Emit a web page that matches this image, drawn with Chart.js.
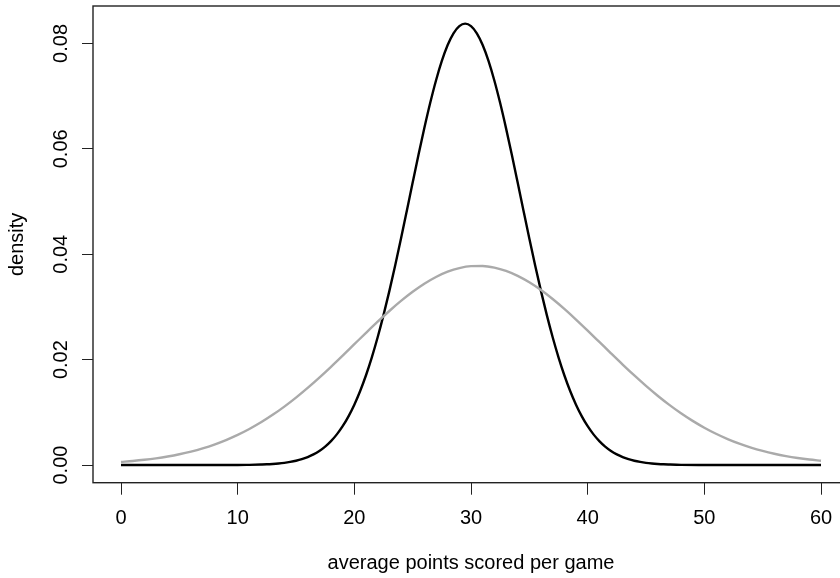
<!DOCTYPE html>
<html>
<head>
<meta charset="utf-8">
<script src="https://cdn.jsdelivr.net/npm/chart.js@4.4.1/dist/chart.umd.min.js"></script>
<style>
  html, body { margin: 0; padding: 0; overflow: hidden; background: #fff; width: 840px; height: 578px; }
  canvas { display: block; }
</style>
</head>
<body>
<canvas id="chart" width="856" height="578"></canvas>
<script>
// Axis ticks and titles
const xTickValues = [0, 10, 20, 30, 40, 50, 60];
const yTickValues = [0, 0.02, 0.04, 0.06, 0.08];
const xTitle = 'average points scored per game';
const yTitle = 'density';

// Narrow (black) density curve
const narrowX = [0, 2, 4, 6, 8, 10, 11,
  12, 12.5, 13, 13.5, 14, 14.5, 15, 15.5, 16, 16.5, 17, 17.5, 18, 18.5, 19, 19.5,
  20, 20.5, 21, 21.5, 22, 22.5, 23, 23.5, 24, 24.5, 25, 25.5, 26, 26.5, 27, 27.5,
  28, 28.5, 29, 29.5, 30, 30.5, 31, 31.5, 32, 32.5, 33, 33.5, 34, 34.5, 35, 35.5,
  36, 36.5, 37, 37.5, 38, 38.5, 39, 39.5, 40, 40.5, 41, 41.5, 42, 42.5, 43, 43.5,
  44, 44.5, 45, 45.5, 46, 46.5, 47,
  48, 50, 52, 54, 56, 58, 60];
const narrowDensity = [0, 0, 0, 0, 0, 0, 0.00004,
  0.00010, 0.00014, 0.00021, 0.00030, 0.00042, 0.00059, 0.00081, 0.00111, 0.00151, 0.00202, 0.00267, 0.00350, 0.00454, 0.00582, 0.00737, 0.00924,
  0.01146, 0.01405, 0.01704, 0.02044, 0.02424, 0.02844, 0.03300, 0.03788, 0.04300, 0.04827, 0.05360, 0.05886, 0.06393, 0.06868, 0.07297, 0.07668,
  0.07970, 0.08192, 0.08329, 0.08375, 0.08329, 0.08192, 0.07970, 0.07668, 0.07297, 0.06868, 0.06393, 0.05886, 0.05360, 0.04827, 0.04300, 0.03788,
  0.03300, 0.02844, 0.02424, 0.02044, 0.01704, 0.01405, 0.01146, 0.00924, 0.00737, 0.00582, 0.00454, 0.00350, 0.00267, 0.00202, 0.00151, 0.00111,
  0.00081, 0.00059, 0.00042, 0.00030, 0.00021, 0.00014, 0.00010,
  0.00004, 0.00001, 0, 0, 0, 0, 0];

// Wide (grey) density curve
const wideX = [0, 1, 2, 3, 4, 5, 6, 7, 8, 9, 10, 11, 12, 13, 14, 15, 16, 17, 18, 19, 20,
  21, 22, 23, 24, 25, 26, 27, 28, 29, 30, 31, 32, 33, 34, 35, 36, 37, 38, 39, 40,
  41, 42, 43, 44, 45, 46, 47, 48, 49, 50, 51, 52, 53, 54, 55, 56, 57, 58, 59, 60];
const wideDensity = [0.000586, 0.000766, 0.000992, 0.001274, 0.001622, 0.002046, 0.002558, 0.003171, 0.003894, 0.004741, 0.005720,
  0.006841, 0.008108, 0.009524, 0.011091, 0.012799, 0.014639, 0.016598, 0.018650, 0.020770, 0.022927,
  0.025083, 0.027200, 0.029232, 0.031139, 0.032877, 0.034403, 0.035682, 0.036680, 0.037372, 0.037740,
  0.037773, 0.037472, 0.036844, 0.035905, 0.034680, 0.033200, 0.031501, 0.029625, 0.027614, 0.025511,
  0.023359, 0.021200, 0.019070, 0.017001, 0.015022, 0.013156, 0.011421, 0.009826, 0.008378, 0.007081,
  0.005933, 0.004925, 0.004052, 0.003305, 0.002672, 0.002141, 0.001700, 0.001338, 0.001044, 0.000807];

const FONT = '"Liberation Sans", Arial, Helvetica, sans-serif';

const toPoints = (xs, ys) => xs.map((x, i) => ({ x: x, y: ys[i] }));

// Frame around the plotting region
const frame = {
  id: 'frame',
  afterDraw(chart) {
    const { ctx, chartArea: a } = chart;
    ctx.save();
    ctx.strokeStyle = '#222';
    ctx.lineWidth = 1.4;
    ctx.strokeRect(a.left, a.top, a.right - a.left, a.bottom - a.top);
    ctx.restore();
  }
};

new Chart(document.getElementById('chart'), {
  type: 'scatter',
  data: {
    datasets: [
      {
        data: toPoints(wideX, wideDensity),
        showLine: true,
        borderColor: '#aaaaaa',
        borderWidth: 2.4,
        pointRadius: 0,
        cubicInterpolationMode: 'monotone'
      },
      {
        data: toPoints(narrowX, narrowDensity),
        showLine: true,
        borderColor: '#000000',
        borderWidth: 2.4,
        pointRadius: 0,
        cubicInterpolationMode: 'monotone'
      }
    ]
  },
  options: {
    responsive: false,
    animation: false,
    devicePixelRatio: 1,
    layout: { padding: { top: 6, right: 7, left: 0, bottom: 0 } },
    plugins: { legend: { display: false }, tooltip: { enabled: false } },
    scales: {
      x: {
        type: 'linear',
        min: -2.4,
        max: 62.4,
        afterFit(scale) {
          scale.height = 95.3;
          scale.paddingLeft = 0;
          scale.paddingRight = 0;
        },
        afterBuildTicks(scale) { scale.ticks = xTickValues.map(v => ({ value: v })); },
        grid: { display: true, drawOnChartArea: false, drawTicks: true, tickLength: 12, color: '#222', lineWidth: 1 },
        border: { display: false },
        ticks: {
          autoSkip: false,
          maxRotation: 0,
          padding: 12,
          color: '#000',
          font: { family: FONT, size: 20 },
          callback: v => String(v)
        },
        title: {
          display: true,
          text: xTitle,
          color: '#000',
          font: { family: FONT, size: 20, lineHeight: 1.2 },
          padding: { top: 0, bottom: 3 }
        }
      },
      y: {
        type: 'linear',
        min: -0.00335,
        max: 0.0871,
        afterFit(scale) {
          scale.width = 93;
          scale.paddingTop = 0;
          scale.paddingBottom = 0;
        },
        afterBuildTicks(scale) { scale.ticks = yTickValues.map(v => ({ value: v })); },
        grid: { display: true, drawOnChartArea: false, drawTicks: true, tickLength: 11, color: '#222', lineWidth: 1 },
        border: { display: false },
        ticks: {
          autoSkip: false,
          minRotation: 90,
          maxRotation: 90,
          crossAlign: 'center',
          padding: 1,
          color: '#000',
          font: { family: FONT, size: 20 },
          callback: v => v.toFixed(2)
        },
        title: {
          display: true,
          text: yTitle,
          color: '#000',
          font: { family: FONT, size: 20, lineHeight: 1.2 },
          padding: { top: 5, bottom: 0 }
        }
      }
    }
  },
  plugins: [frame]
});
</script>
</body>
</html>
